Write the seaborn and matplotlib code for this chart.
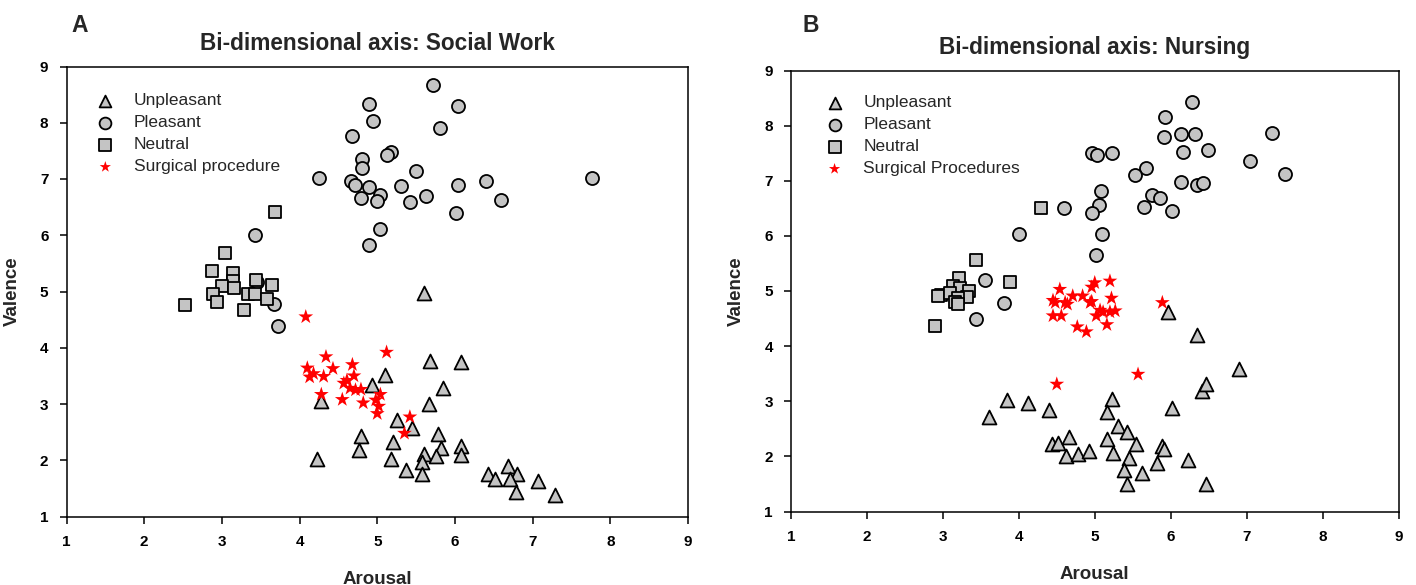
import numpy as np
import pandas as pd
import matplotlib
matplotlib.use("Agg")
import matplotlib.pyplot as plt
import seaborn as sns

# ---------------- Data: Panel A (Social Work) ----------------
a_unpl_x = [5.10, 4.93, 5.68, 6.08, 5.85, 5.67, 4.27, 5.25, 5.45, 4.79, 5.20, 5.78, 4.77, 5.82,
            6.08, 6.08, 5.60, 5.75, 5.57, 5.18, 4.22, 5.37, 5.58, 6.43, 6.52, 6.68, 6.80, 6.71,
            6.79, 7.07, 7.29, 5.60]
a_unpl_y = [3.52, 3.34, 3.76, 3.74, 3.29, 3.00, 3.05, 2.71, 2.57, 2.43, 2.33, 2.46, 2.18, 2.21,
            2.26, 2.09, 2.12, 2.07, 1.97, 2.03, 2.03, 1.82, 1.76, 1.75, 1.66, 1.90, 1.75, 1.66,
            1.43, 1.63, 1.38, 4.98]

a_pleas_x = [4.90, 4.94, 4.68, 5.18, 5.12, 4.80, 4.81, 4.25, 4.66, 4.72, 4.90, 5.04, 5.00, 4.79,
             5.04, 4.90, 3.43, 3.45, 3.67, 3.72, 5.72, 6.04, 5.81, 5.50, 5.31, 6.04, 6.40, 7.76,
             5.42, 5.63, 6.59, 6.02]
a_pleas_y = [8.34, 8.04, 7.77, 7.48, 7.42, 7.36, 7.19, 7.02, 6.97, 6.89, 6.86, 6.71, 6.61, 6.66,
             6.12, 5.83, 6.00, 5.17, 4.77, 4.38, 8.68, 8.29, 7.91, 7.14, 6.88, 6.89, 6.96, 7.02,
             6.60, 6.69, 6.63, 6.39]

a_neut_x = [3.68, 3.04, 2.87, 3.14, 3.14, 3.44, 3.65, 3.00, 3.16, 2.88, 3.34, 3.42, 2.94, 3.58,
            2.52, 3.29]
a_neut_y = [6.42, 5.68, 5.36, 5.33, 5.18, 5.20, 5.11, 5.09, 5.07, 4.96, 4.96, 4.95, 4.82, 4.87,
            4.76, 4.67]

a_surg_x = [4.08, 4.34, 5.12, 4.10, 4.13, 4.18, 4.31, 4.43, 4.68, 4.70, 4.61, 4.57, 4.65, 4.72,
            4.79, 4.28, 4.55, 4.82, 5.04, 4.98, 5.02, 5.00, 5.42, 5.35]
a_surg_y = [4.55, 3.84, 3.92, 3.64, 3.48, 3.54, 3.49, 3.63, 3.70, 3.50, 3.42, 3.37, 3.28, 3.25,
            3.26, 3.17, 3.08, 3.02, 3.17, 3.07, 2.96, 2.83, 2.77, 2.48]

# ---------------- Data: Panel B (Nursing) ----------------
b_unpl_x = [3.61, 3.84, 4.12, 4.40, 5.23, 5.16, 5.31, 5.43, 5.16, 5.54, 4.44, 4.52, 4.66, 4.62,
            4.78, 4.93, 5.24, 5.45, 5.89, 5.91, 5.82, 5.38, 5.62, 5.43, 6.23, 6.46, 6.02, 6.41,
            6.46, 6.90, 5.97, 6.34]
b_unpl_y = [2.71, 3.02, 2.97, 2.85, 3.04, 2.81, 2.55, 2.44, 2.31, 2.23, 2.23, 2.25, 2.36, 2.00,
            2.05, 2.10, 2.06, 1.97, 2.19, 2.14, 1.88, 1.76, 1.70, 1.50, 1.93, 1.50, 2.87, 3.18,
            3.31, 3.59, 4.62, 4.21]

b_pleas_x = [6.28, 5.93, 5.91, 6.14, 6.32, 7.34, 4.96, 5.03, 5.23, 6.16, 6.49, 7.05, 7.51, 5.68,
             5.53, 6.13, 6.34, 6.42, 5.08, 5.75, 5.86, 5.06, 4.97, 5.65, 6.02, 5.09, 5.02, 4.60,
             4.00, 3.55, 3.81, 3.43]
b_pleas_y = [8.42, 8.16, 7.79, 7.84, 7.84, 7.86, 7.51, 7.47, 7.50, 7.53, 7.56, 7.36, 7.13, 7.23,
             7.11, 6.98, 6.93, 6.96, 6.81, 6.75, 6.69, 6.56, 6.42, 6.53, 6.45, 6.03, 5.65, 6.51,
             6.03, 5.20, 4.78, 4.49]

b_neut_x = [4.29, 3.44, 3.89, 3.21, 3.13, 3.22, 2.98, 2.94, 3.09, 3.34, 3.32, 3.20, 3.16, 3.20,
            2.90]
b_neut_y = [6.50, 5.56, 5.16, 5.23, 5.09, 5.06, 4.93, 4.91, 4.97, 5.00, 4.90, 4.87, 4.80, 4.76,
            4.37]

b_surg_x = [4.54, 4.45, 4.48, 4.61, 4.64, 4.71, 4.84, 4.96, 5.00, 5.20, 4.94, 5.22, 5.07, 5.02,
            5.20, 5.27, 5.16, 4.45, 4.56, 4.77, 4.89, 5.89, 4.50, 5.57, 4.96, 5.11]
b_surg_y = [5.03, 4.83, 4.79, 4.79, 4.76, 4.91, 4.91, 5.07, 5.15, 5.18, 4.79, 4.87, 4.65, 4.55,
            4.62, 4.64, 4.39, 4.55, 4.55, 4.35, 4.26, 4.79, 3.31, 3.49, 4.81, 4.62]

ticks = [1, 2, 3, 4, 5, 6, 7, 8, 9]
titles = ["Bi-dimensional axis: Social Work", "Bi-dimensional axis: Nursing"]
panel_letters = ["A", "B"]
surg_labels = ["Surgical procedure", "Surgical Procedures"]

# ---------------- Style ----------------
sns.set_style("ticks")
plt.rcParams["font.family"] = ["Liberation Sans", "DejaVu Sans"]
plt.rcParams["axes.linewidth"] = 1.1

W, H = 1416, 585
fig = plt.figure(figsize=(W / 100, H / 100), dpi=100)


def px_axes(x0, y0, x1, y1):
    return fig.add_axes([x0 / W, 1 - y1 / H, (x1 - x0) / W, (y1 - y0) / H])


ax_a = px_axes(66.5, 66.5, 688, 516.5)
ax_b = px_axes(791, 70.5, 1398.5, 511.5)

grey = "#c4c4c4"

panels = [
    (ax_a, a_unpl_x, a_unpl_y, a_pleas_x, a_pleas_y, a_neut_x, a_neut_y, a_surg_x, a_surg_y),
    (ax_b, b_unpl_x, b_unpl_y, b_pleas_x, b_pleas_y, b_neut_x, b_neut_y, b_surg_x, b_surg_y),
]
legend_anchor = [((105 - 66.5) / 621.5 - 0.033, 0.968), ((835 - 791) / 607.5 - 0.035, 0.972)]

for i, (ax, ux, uy, px, py, nx, ny, sx, sy) in enumerate(panels):
    sns.scatterplot(x=ux, y=uy, ax=ax, marker="^", s=100, color=grey, edgecolor="black",
                    linewidth=1.3, label="Unpleasant", zorder=3)
    sns.scatterplot(x=px, y=py, ax=ax, marker="o", s=88, color=grey, edgecolor="black",
                    linewidth=1.3, label="Pleasant", zorder=3)
    sns.scatterplot(x=nx, y=ny, ax=ax, marker="s", s=78, color=grey, edgecolor="black",
                    linewidth=1.3, label="Neutral", zorder=3)
    sns.scatterplot(x=sx, y=sy, ax=ax, marker="*", s=125, color="#ff0000", edgecolor="none",
                    linewidth=0, label=surg_labels[i], zorder=4)

    ax.set_xlim(1, 9)
    ax.set_ylim(1, 9)
    ax.set_xticks(ticks)
    ax.set_yticks(ticks)
    ax.set_xticklabels([str(t) for t in ticks], fontsize=11, fontweight="bold")
    ax.set_yticklabels([str(t) for t in ticks], fontsize=11, fontweight="bold")
    ax.tick_params(direction="out", length=5, width=1.1, pad=8, top=False, right=False,
                   colors="black")
    for sp in ax.spines.values():
        sp.set_visible(True)
        sp.set_color("black")
    ax.set_xlabel("Arousal", fontsize=13.5, fontweight="bold", labelpad=16)
    ax.set_ylabel("Valence", fontsize=13.5, fontweight="bold", labelpad=14)
    ax.set_title(titles[i], fontsize=16.3, fontweight="bold", pad=12)

    leg = ax.legend(loc="upper left", bbox_to_anchor=legend_anchor[i],
                    frameon=False, fontsize=12.5, handlelength=1.0, handletextpad=1.15,
                    labelspacing=0.4, borderaxespad=0.3)
    for h in leg.legend_handles:
        h.set_sizes([72])

fig.text(71 / W, 1 - 25 / H, panel_letters[0], fontsize=16.5, fontweight="bold", va="center", ha="left")
fig.text(802 / W, 1 - 25 / H, panel_letters[1], fontsize=16.5, fontweight="bold", va="center", ha="left")

fig.savefig("out.png", dpi=100)
